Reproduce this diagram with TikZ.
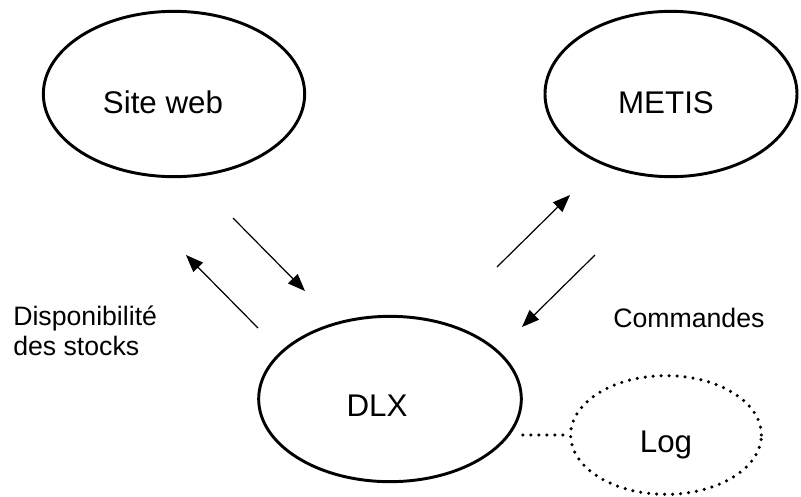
\documentclass[tikz,border=0pt]{standalone}
\usepackage{fontspec}
\setmainfont{Liberation Sans}
\usetikzlibrary{shapes.geometric,arrows.meta}

\tikzset{
  bubble/.style={draw, ellipse, line width=2.2pt, inner sep=0pt},
  logbubble/.style={draw, ellipse, line width=2.6pt, inner sep=0pt, dash pattern=on 0pt off 6pt, line cap=round},
  flow/.style={line width=0.9pt, -{Triangle[length=13pt,width=10pt]}},
  txt/.style={inner sep=0pt, font=\fontsize{20}{22.5}\selectfont},
  bigtxt/.style={inner sep=0pt, font=\fontsize{23.5}{26}\selectfont}
}

\begin{document}
\begin{tikzpicture}[x=0.75pt,y=0.75pt,yscale=-1,xscale=1]

            \useasboundingbox (0,0) rectangle (801,497);

            % Ellipses
            \node[bubble, minimum width=196pt, minimum height=124pt] (site) at (174,94) {};
            \node[bubble, minimum width=189pt, minimum height=124pt] (metis) at (671,94) {};
            \node[bubble, minimum width=197pt, minimum height=124pt] (dlx) at (390,399) {};
            \node[logbubble, minimum width=143pt, minimum height=89pt] (log) at (666,435) {};

            % Names
            \node[bigtxt, anchor=base] (sitetxt) at (163,113) {Site web};
            \node[bigtxt, anchor=base] (metistxt) at (666,113) {METIS};
            \node[bigtxt, anchor=base] (dlxtxt) at (377,416) {DLX};
            \node[bigtxt, anchor=base] (logtxt) at (666,452) {Log};

            % Arrow ends
            \coordinate (a1) at (233,218);
            \coordinate (b1) at (305,291);
            \coordinate (a2) at (258,328);
            \coordinate (b2) at (186,255);
            \coordinate (a3) at (497,267);
            \coordinate (b3) at (570,195);
            \coordinate (a4) at (595,255);
            \coordinate (b4) at (522,327);

            % Arrows
            \draw[flow] (a1) -- (b1);
            \draw[flow] (a2) -- (b2);
            \draw[flow] (a3) -- (b3);
            \draw[flow] (a4) -- (b4);

            % Dotted link
            \draw[line width=2.6pt, dash pattern=on 0pt off 6pt, line cap=round] (dlx.east |- log.west) -- (log.west);

            % Labels
            \node[txt, anchor=base west, align=left] (stock) at (13,355) {Disponibilit\'e\\des stocks};
            \node[txt, anchor=base west] (cmd) at (613,327) {Commandes};

\end{tikzpicture}
\end{document}
